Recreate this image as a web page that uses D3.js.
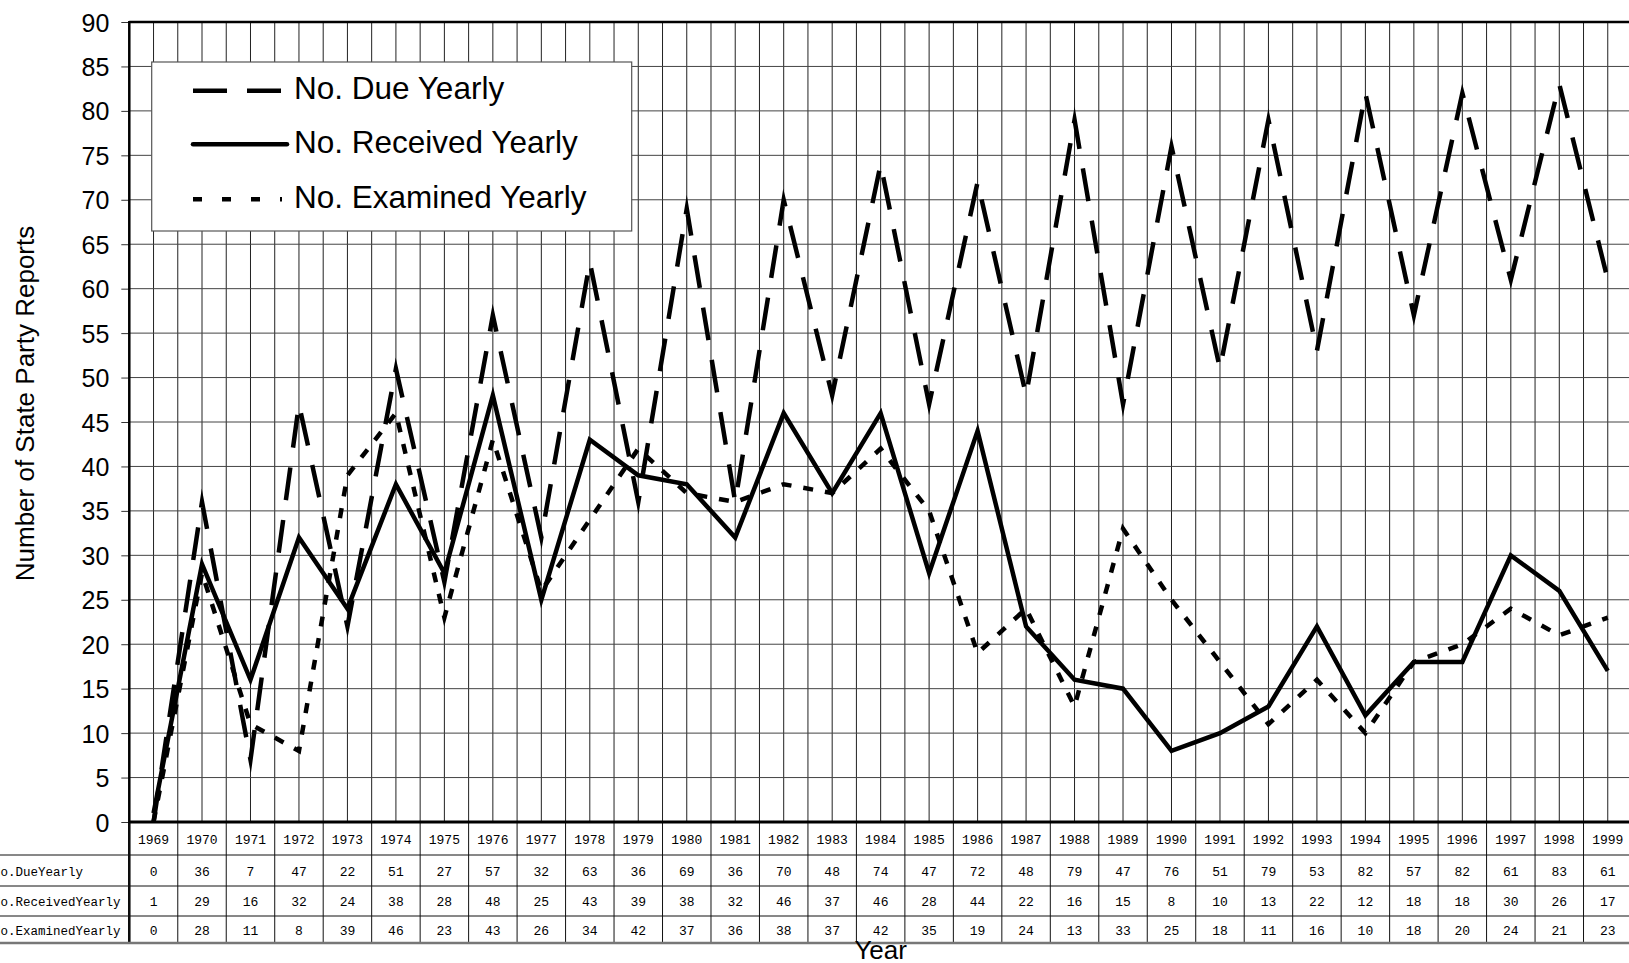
<!DOCTYPE html>
<html>
<head>
<meta charset="utf-8">
<script src="https://cdn.jsdelivr.net/npm/d3@7"></script>
<style>
  html, body { margin: 0; padding: 0; background: #fff; overflow: hidden; }
  svg { display: block; }
</style>
</head>
<body>
<svg id="chart" width="1629" height="963"></svg>
<script>
const years = ["1969","1970","1971","1972","1973","1974","1975","1976","1977","1978","1979","1980","1981","1982","1983","1984","1985","1986","1987","1988","1989","1990","1991","1992","1993","1994","1995","1996","1997","1998","1999"];
const dueYearly = [0,36,7,47,22,51,27,57,32,63,36,69,36,70,48,74,47,72,48,79,47,76,51,79,53,82,57,82,61,83,61];
const receivedYearly = [1,29,16,32,24,38,28,48,25,43,39,38,32,46,37,46,28,44,22,16,15,8,10,13,22,12,18,18,30,26,17];
const examinedYearly = [0,28,11,8,39,46,23,43,26,34,42,37,36,38,37,42,35,19,24,13,33,25,18,11,16,10,18,20,24,21,23];
const yTicks = [0,5,10,15,20,25,30,35,40,45,50,55,60,65,70,75,80,85,90];
const seriesNames = ["No. Due Yearly","No. Received Yearly","No. Examined Yearly"];
const rowLabels = ["No.DueYearly","No.ReceivedYearly","No.ExaminedYearly"];

const series = [
  {name: seriesNames[0], label: rowLabels[0], values: dueYearly, dash: "33,20"},
  {name: seriesNames[1], label: rowLabels[1], values: receivedYearly, dash: null},
  {name: seriesNames[2], label: rowLabels[2], values: examinedYearly, dash: "10,12"}
];

const svg = d3.select("#chart");
const L = 129.3, R = 1632, T = 22, B = 822;
const rowY = [822, 855, 886, 916, 943];

const x = d3.scaleBand().domain(years).range([L, R]).paddingInner(0).paddingOuter(0);
const y = d3.scaleLinear().domain([0, 90]).range([B, T]);
const bw = x.bandwidth();

// vertical grid (boundaries and centers)
const gridG = svg.append("g");
const vLines = [];
years.forEach(yr => { vLines.push(x(yr)); vLines.push(x(yr) + bw / 2); });
vLines.push(R);
gridG.selectAll("line.v").data(vLines).enter().append("line")
  .attr("x1", d => d).attr("x2", d => d).attr("y1", T).attr("y2", B)
  .attr("stroke", "#222").attr("stroke-width", 1);

// horizontal grid
gridG.selectAll("line.h").data(yTicks.filter(t => t > 0 && t < 90)).enter().append("line")
  .attr("x1", L).attr("x2", R).attr("y1", d => y(d)).attr("y2", d => y(d))
  .attr("stroke", "#444").attr("stroke-width", 1);

// y axis
const yAxis = d3.axisLeft(y).tickValues(yTicks).tickSize(8).tickPadding(12);
const yg = svg.append("g").attr("transform", `translate(${L},0)`).call(yAxis);
yg.select(".domain").remove();
yg.selectAll(".tick line").attr("stroke", "#333").attr("stroke-width", 1);
yg.selectAll(".tick text").attr("font-family", "Liberation Sans, Arial, sans-serif")
  .attr("font-size", 25).attr("fill", "#000").attr("dy", "0.36em");

// frame lines
svg.append("line").attr("x1", L).attr("x2", L).attr("y1", T - 1).attr("y2", rowY[4])
  .attr("stroke", "#000").attr("stroke-width", 2.5);
svg.append("line").attr("x1", L).attr("x2", 1629).attr("y1", T).attr("y2", T)
  .attr("stroke", "#000").attr("stroke-width", 2.5);

// data lines
const lineGen = d3.line().x((d, i) => x(years[i]) + bw / 2).y(d => y(d));
const linesG = svg.append("g");
series.forEach(s => {
  linesG.append("path").datum(s.values)
    .attr("d", lineGen)
    .attr("fill", "none").attr("stroke", "#000").attr("stroke-width", 4.5)
    .attr("stroke-linejoin", "miter").attr("stroke-miterlimit", 10)
    .attr("stroke-dasharray", s.dash);
});

// table
const tbl = svg.append("g");
const tv = years.map(yr => x(yr)).concat([R]);
tbl.selectAll("line.tv").data(tv).enter().append("line")
  .attr("x1", d => d).attr("x2", d => d).attr("y1", rowY[0]).attr("y2", rowY[4])
  .attr("stroke", "#111").attr("stroke-width", 1);
tbl.selectAll("line.th").data([rowY[1], rowY[2], rowY[3]]).enter().append("line")
  .attr("x1", 0).attr("x2", 1629).attr("y1", d => d).attr("y2", d => d)
  .attr("stroke", "#111").attr("stroke-width", 1);
tbl.append("line").attr("x1", 0).attr("x2", 1629).attr("y1", rowY[4]).attr("y2", rowY[4])
  .attr("stroke", "#777").attr("stroke-width", 2.5);
svg.append("line").attr("x1", L).attr("x2", 1629).attr("y1", B).attr("y2", B)
  .attr("stroke", "#000").attr("stroke-width", 3);

const mono = "Liberation Mono, Courier New, monospace";
tbl.selectAll("text.yr").data(years).enter().append("text")
  .attr("x", d => x(d) + bw / 2).attr("y", (rowY[0] + rowY[1]) / 2 + 5)
  .attr("text-anchor", "middle").attr("font-family", mono).attr("font-size", 13)
  .attr("fill", "#000").text(d => d);
series.forEach((s, r) => {
  const cy = (rowY[r + 1] + rowY[r + 2]) / 2 + 5;
  tbl.selectAll(null).data(s.values).enter().append("text")
    .attr("x", (d, i) => x(years[i]) + bw / 2).attr("y", cy)
    .attr("text-anchor", "middle").attr("font-family", mono).attr("font-size", 13)
    .attr("fill", "#000").text(d => d);
  tbl.append("text").attr("x", -7).attr("y", cy)
    .attr("text-anchor", "start").attr("font-family", mono).attr("font-size", 12.5)
    .attr("fill", "#000").text(s.label);
});

// axis titles
const sans = "Liberation Sans, Arial, sans-serif";
svg.append("text").attr("x", (L + R) / 2).attr("y", 959).attr("text-anchor", "middle")
  .attr("font-family", sans).attr("font-size", 26).attr("fill", "#000").text("Year");
svg.append("text").attr("transform", "translate(34,403.5) rotate(-90)").attr("text-anchor", "middle")
  .attr("font-family", sans).attr("font-size", 26).attr("fill", "#000").text("Number of State Party Reports");

// legend
const lg = svg.append("g");
lg.append("rect").attr("x", 151.7).attr("y", 62).attr("width", 480).attr("height", 169)
  .attr("fill", "#fff").attr("stroke", "#555").attr("stroke-width", 1.2);
const legY = [90.7, 144.3, 199.3];
const legDash = ["34,20", null, "9,20"];
series.forEach((s, i) => {
  lg.append("line").attr("x1", 193).attr("x2", i === 1 ? 287 : 282)
    .attr("y1", legY[i]).attr("y2", legY[i])
    .attr("stroke", "#000").attr("stroke-width", 4.5)
    .attr("stroke-linecap", i === 1 ? "round" : "butt")
    .attr("stroke-dasharray", legDash[i]);
  lg.append("text").attr("x", 294).attr("y", legY[i] + 8.5)
    .attr("font-family", sans).attr("font-size", 31.5).attr("fill", "#000").text(s.name);
});
</script>
</body>
</html>
